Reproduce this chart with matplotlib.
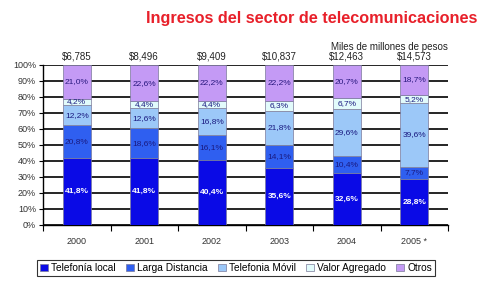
import matplotlib
matplotlib.use("Agg")
import matplotlib.pyplot as plt
import numpy as np

plt.rcParams['font.family'] = ['Liberation Sans', 'DejaVu Sans']

years = ["2000", "2001", "2002", "2003", "2004", "2005 *"]
totals = ["$6,785", "$8,496", "$9,409", "$10,837", "$12,463", "$14,573"]
series_names = ["Telefonía local", "Larga Distancia", "Telefonia Móvil", "Valor Agregado", "Otros"]
local = [41.8, 41.8, 40.4, 35.6, 32.6, 28.8]
larga = [20.8, 18.6, 16.1, 14.1, 10.4, 7.7]
movil = [12.2, 12.6, 16.8, 21.8, 29.6, 39.6]
valor = [4.2, 4.4, 4.4, 6.3, 6.7, 5.2]
otros = [21.0, 22.6, 22.2, 22.2, 20.7, 18.7]

colors = ["#0a0ae6", "#2f5ff0", "#9cc8f8", "#e2fbfb", "#c49af5"]
txtcolors = ["white", "#1a1a80", "#1a1a80", "#1a1a80", "#2a1a80"]

fig = plt.figure(figsize=(4.8, 2.86), dpi=100)
ax = fig.add_axes([43/480, 1-225/286, 405/480, 160/286])

x = np.arange(len(years))
bottom = np.zeros(len(years))
data = [local, larga, movil, valor, otros]
for vals, c, tc, name in zip(data, colors, txtcolors, series_names):
    vals = np.array(vals)
    ax.bar(x, vals, 0.41, bottom=bottom, color=c, edgecolor="#7a7a9a", linewidth=0.5, label=name, zorder=3)
    for xi, b, v in zip(x, bottom, vals):
        ax.text(xi, b + v/2, f"{v:.1f}%".replace(".", ","), ha="center", va="center",
                fontsize=6, color=tc, zorder=4,
                fontweight="bold" if tc == "white" else "normal")
    bottom += vals

ax.set_xlim(-0.5, 5.5)
ax.set_ylim(0, 100)
ax.set_yticks(np.arange(0, 101, 10))
ax.set_yticklabels([f"{v}%" for v in range(0, 101, 10)], fontsize=6.5, color="#333333")
ax.yaxis.grid(True, color="black", linewidth=1.2, zorder=0)
ax.set_xticks(x)
ax.set_xticklabels(years, fontsize=6.5, color="#333333")
ax.tick_params(axis="x", length=0, pad=9)
ax.set_xticks(np.arange(-0.5, 6, 1), minor=True)
ax.tick_params(axis="x", which="minor", length=4, width=0.8)
ax.tick_params(axis="y", length=3, width=0.8, pad=2)
for s in ["top", "right"]:
    ax.spines[s].set_visible(False)
ax.spines["left"].set_linewidth(1.0)
ax.spines["bottom"].set_linewidth(1.0)
ax.set_facecolor("white")

for xi, t in zip(x, totals):
    ax.text(xi, 102, t, ha="center", va="bottom", fontsize=7, color="#222222", clip_on=False)

fig.text(448/480, 1-47/286, "Miles de millones de pesos", ha="right", va="center", fontsize=7, color="#222222")
fig.text(477/480, 1-18/286, "Ingresos del sector de telecomunicaciones", ha="right", va="center",
         fontsize=11.7, color="#e8202a", fontweight="bold")

leg = fig.legend(loc="center", bbox_to_anchor=(236/480, 1-268/286), ncol=5, fontsize=7.3,
                 frameon=True, fancybox=False, edgecolor="black", handlelength=0.8, handleheight=0.8,
                 handletextpad=0.3, columnspacing=1.0, borderpad=0.3)
leg.get_frame().set_linewidth(0.8)

fig.savefig("out.png", dpi=100, facecolor="white")
